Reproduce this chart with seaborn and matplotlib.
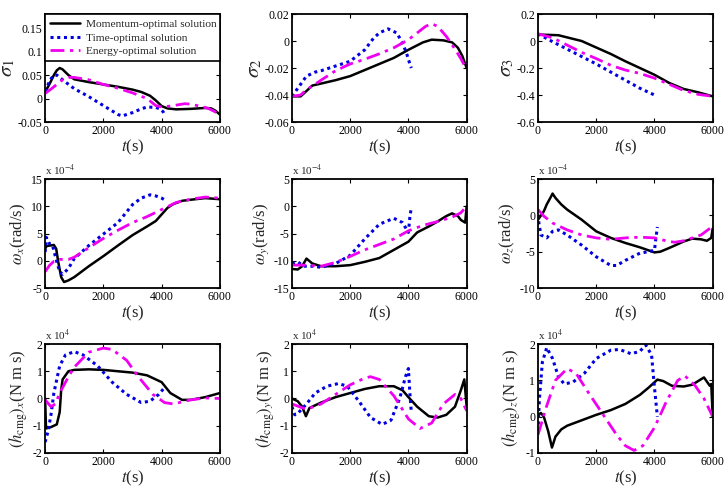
import numpy as np
import pandas as pd
import matplotlib
matplotlib.use("Agg")
import matplotlib.pyplot as plt
import seaborn as sns
from matplotlib.ticker import FuncFormatter, FixedLocator
from matplotlib.lines import Line2D

sns.set_style("ticks")
plt.rcParams["font.family"] = ["Liberation Serif", "DejaVu Serif"]
plt.rcParams["mathtext.fontset"] = "stix"
plt.rcParams["axes.unicode_minus"] = False

series_names = ["Momentum-optimal solution", "Time-optimal solution", "Energy-optimal solution"]

# ---- sigma_1 ----
s1_mom_t = [0, 100, 200, 300, 400, 500, 600, 800, 1000, 1500, 2000, 2500, 3000, 3300, 3600, 3800, 4000, 4200, 4500, 5000, 5500, 5700, 5850, 6000]
s1_mom = [0.015, 0.025, 0.037, 0.05, 0.06, 0.065, 0.062, 0.05, 0.041, 0.035, 0.03, 0.025, 0.019, 0.014, 0.006, -0.004, -0.016, -0.021, -0.023, -0.022, -0.02, -0.021, -0.026, -0.034]
s1_tim_t = [0, 100, 200, 300, 400, 500, 700, 1000, 1500, 2000, 2500, 2650, 3000, 3300, 3500, 3800, 3950, 4050, 4100]
s1_tim = [0.015, 0.03, 0.042, 0.05, 0.05, 0.045, 0.035, 0.021, 0.004, -0.015, -0.034, -0.037, -0.03, -0.022, -0.018, -0.019, -0.022, -0.028, -0.034]
s1_ene_t = [0, 200, 400, 600, 800, 1000, 1500, 2000, 2500, 3000, 3500, 3800, 4000, 4300, 4600, 4800, 5000, 5300, 5600, 5800, 6000]
s1_ene = [0.011, 0.02, 0.03, 0.04, 0.045, 0.045, 0.04, 0.03, 0.022, 0.012, 0.0, -0.015, -0.018, -0.016, -0.013, -0.011, -0.012, -0.016, -0.021, -0.027, -0.035]

# ---- sigma_2 ----
s2_mom_t = [0, 300, 500, 700, 1000, 1500, 2000, 2500, 3000, 3500, 4000, 4500, 4800, 5200, 5500, 5700, 5850, 6000]
s2_mom = [-0.041, -0.041, -0.037, -0.033, -0.0315, -0.029, -0.026, -0.0215, -0.017, -0.0125, -0.0065, -0.001, 0.001, 0.0005, -0.001, -0.005, -0.011, -0.02]
s2_tim_t = [0, 200, 500, 800, 1000, 1500, 2000, 2500, 2800, 3000, 3300, 3600, 3800, 3950, 4050, 4100]
s2_tim = [-0.041, -0.035, -0.026, -0.023, -0.022, -0.0185, -0.015, -0.0065, 0.002, 0.006, 0.009, 0.006, -0.0015, -0.01, -0.017, -0.02]
s2_ene_t = [0, 300, 500, 800, 1000, 1500, 2000, 2500, 3000, 3500, 4000, 4300, 4600, 4800, 5000, 5300, 5600, 5800, 6000]
s2_ene = [-0.041, -0.04, -0.036, -0.032, -0.029, -0.022, -0.017, -0.0135, -0.0095, -0.005, 0.001, 0.006, 0.011, 0.0127, 0.011, 0.0035, -0.006, -0.013, -0.021]

# ---- sigma_3 ----
s3_mom_t = [0, 700, 1500, 2000, 2500, 3000, 3500, 4000, 4500, 5000, 5500, 6000]
s3_mom = [0.048, 0.043, 0.0, -0.048, -0.096, -0.15, -0.2, -0.25, -0.31, -0.355, -0.38, -0.41]
s3_tim_t = [0, 500, 1000, 1500, 2000, 2500, 3000, 3500, 4000, 4050]
s3_tim = [0.053, -0.005, -0.06, -0.115, -0.17, -0.23, -0.29, -0.35, -0.40, -0.41]
s3_ene_t = [0, 500, 1000, 1500, 2000, 2500, 3000, 3500, 4000, 4500, 5000, 5500, 6000]
s3_ene = [0.053, 0.024, -0.03, -0.084, -0.13, -0.18, -0.215, -0.24, -0.275, -0.32, -0.366, -0.395, -0.41]

# ---- omega_x (x 1e-4) ----
wx_mom_t = [0, 50, 300, 380, 450, 550, 650, 800, 1000, 1500, 2000, 2500, 3000, 3500, 3800, 4000, 4200, 4400, 4700, 5000, 5500, 6000]
wx_mom = [2.2, 2.7, 2.9, 2.2, -0.2, -3.0, -3.9, -3.6, -3.0, -1.0, 0.85, 2.8, 4.7, 6.3, 7.3, 8.5, 9.7, 10.4, 11.0, 11.2, 11.5, 11.3]
wx_tim_t = [0, 40, 150, 250, 400, 500, 600, 800, 1000, 1500, 2000, 2500, 3000, 3300, 3600, 3800, 4000, 4100]
wx_tim = [1.6, 4.3, 3.1, 2.9, -0.2, -2.0, -2.5, -1.4, 0.4, 2.8, 4.9, 7.0, 10.3, 11.5, 12.1, 11.9, 11.5, 11.2]
wx_ene_t = [0, 150, 300, 500, 800, 1000, 1500, 2000, 2500, 3000, 3500, 4000, 4500, 5000, 5500, 6000]
wx_ene = [-2.0, -0.85, -0.1, 0.25, 0.25, 0.65, 2.4, 4.1, 5.6, 7.0, 8.1, 9.4, 10.7, 11.3, 11.7, 11.5]

# ---- omega_y (x 1e-4) ----
wy_mom_t = [0, 200, 350, 500, 700, 1000, 1500, 2000, 2500, 3000, 3500, 4000, 4300, 4700, 5000, 5300, 5500, 5700, 5800, 5950, 6000]
wy_mom = [-11.5, -11.6, -11.0, -9.6, -10.5, -11.0, -11.0, -10.8, -10.2, -9.5, -8.0, -6.5, -4.8, -3.7, -2.8, -1.8, -1.3, -1.8, -2.5, -3.0, 0.0]
wy_tim_t = [0, 200, 400, 700, 1000, 1500, 2000, 2500, 3000, 3500, 3800, 4000, 4050, 4100]
wy_tim = [-10.5, -10.2, -11.0, -11.0, -11.2, -10.5, -9.0, -6.0, -3.3, -2.2, -3.0, -4.8, -2.0, -0.2]
wy_ene_t = [0, 500, 1000, 1500, 2000, 2500, 3000, 3500, 4000, 4500, 5000, 5500, 5800, 6000]
wy_ene = [-10.8, -10.8, -11.0, -10.3, -9.2, -8.0, -7.0, -6.0, -4.5, -3.5, -2.8, -2.0, -1.2, 0.0]

# ---- omega_z (x 1e-4) ----
wz_mom_t = [0, 200, 300, 450, 500, 600, 800, 1000, 1500, 2000, 2500, 3000, 3500, 4000, 4200, 4500, 5000, 5300, 5600, 5800, 5950, 6000]
wz_mom = [-0.6, 0.55, 1.5, 2.6, 3.0, 2.4, 1.5, 0.8, -0.6, -2.2, -3.1, -3.8, -4.4, -5.1, -5.0, -4.5, -3.6, -3.2, -3.3, -3.5, -3.1, -1.8]
wz_tim_t = [0, 30, 100, 300, 500, 700, 1000, 1500, 2000, 2500, 2700, 3000, 3500, 3800, 4000, 4050, 4100]
wz_tim = [0.1, -1.0, -2.7, -3.1, -2.2, -2.0, -2.7, -4.1, -5.7, -6.9, -6.9, -6.2, -5.2, -5.0, -4.8, -3.1, -1.6]
wz_ene_t = [0, 200, 500, 1000, 1500, 2000, 2500, 3000, 3500, 4000, 4500, 4700, 5000, 5300, 5600, 6000]
wz_ene = [0.8, -0.1, -1.05, -2.0, -2.7, -3.1, -3.3, -3.1, -3.0, -3.1, -3.6, -3.7, -3.5, -3.1, -2.7, -1.5]

# ---- (h_cmg)_x (x 1e4) ----
hx_mom_t = [0, 30, 200, 400, 500, 550, 600, 800, 1000, 1500, 2000, 2500, 3000, 3500, 4000, 4300, 4700, 5000, 5500, 6000]
hx_mom = [0.0, -1.1, -1.05, -0.95, -0.5, 0.3, 0.7, 1.0, 1.05, 1.07, 1.05, 1.0, 0.95, 0.85, 0.6, 0.2, -0.05, -0.05, 0.05, 0.2]
hx_tim_t = [0, 100, 200, 300, 500, 700, 1000, 1300, 1800, 2300, 2800, 3300, 3600, 3900, 4100]
hx_tim = [-1.6, -1.2, -0.6, 0.2, 1.2, 1.6, 1.72, 1.6, 1.2, 0.6, 0.15, -0.15, -0.1, 0.15, 0.4]
hx_ene_t = [0, 200, 350, 500, 800, 1000, 1500, 2000, 2300, 2800, 3200, 3700, 4100, 4400, 5000, 5500, 6000]
hx_ene = [-0.05, -0.3, -0.2, 0.2, 0.8, 1.15, 1.7, 1.85, 1.8, 1.4, 0.8, 0.15, -0.15, -0.2, -0.05, 0.02, 0.0]

# ---- (h_cmg)_y (x 1e4) ----
hy_mom_t = [0, 200, 350, 480, 600, 800, 1000, 1500, 2000, 2500, 3000, 3500, 3800, 4000, 4300, 4700, 5000, 5300, 5600, 5800, 5920, 6000]
hy_mom = [0.0, -0.1, -0.3, -0.65, -0.35, -0.25, -0.15, 0.05, 0.2, 0.35, 0.45, 0.45, 0.3, 0.05, -0.3, -0.65, -0.7, -0.6, -0.3, 0.3, 0.7, -0.3]
hy_tim_t = [0, 100, 200, 500, 800, 1200, 1600, 1900, 2300, 2700, 3100, 3400, 3700, 3900, 4000, 4050, 4100]
hy_tim = [-0.3, -0.6, -0.55, -0.2, 0.2, 0.45, 0.55, 0.45, -0.1, -0.7, -0.95, -0.8, 0.0, 0.8, 1.1, 0.2, -0.5]
hy_ene_t = [0, 500, 1000, 1500, 2000, 2500, 2700, 3000, 3500, 4000, 4400, 4800, 5200, 5600, 5800, 6000]
hy_ene = [-0.2, -0.4, -0.2, 0.15, 0.5, 0.75, 0.8, 0.7, 0.1, -0.75, -1.1, -0.9, -0.2, 0.15, 0.0, -0.45]

# ---- (h_cmg)_z (x 1e4) ----
hz_mom_t = [0, 100, 200, 350, 480, 600, 800, 1000, 1500, 2000, 2500, 3000, 3500, 3800, 4100, 4300, 4600, 5000, 5300, 5700, 5900, 5950, 6000]
hz_mom = [0.05, 0.1, 0.0, -0.4, -0.85, -0.55, -0.35, -0.25, -0.1, 0.05, 0.18, 0.35, 0.6, 0.8, 1.02, 0.98, 0.85, 0.83, 0.88, 1.08, 0.85, 0.9, 0.0]
hz_tim_t = [0, 50, 150, 300, 500, 700, 900, 1200, 1600, 2000, 2500, 2800, 3200, 3500, 3700, 3900, 4000, 4100]
hz_tim = [-0.4, 0.5, 1.5, 1.9, 1.6, 1.1, 0.9, 0.95, 1.2, 1.6, 1.83, 1.85, 1.73, 1.8, 1.97, 1.7, 0.8, 0.0]
hz_ene_t = [0, 300, 600, 1000, 1300, 1700, 2200, 2700, 3000, 3300, 3600, 4000, 4400, 4800, 5050, 5400, 5700, 6000]
hz_ene = [-0.5, 0.3, 1.0, 1.32, 1.2, 0.7, 0.1, -0.5, -0.8, -0.93, -0.8, -0.3, 0.4, 1.0, 1.12, 0.85, 0.5, 0.0]

x_ticks = [0, 2000, 4000, 6000]
x_tick_labels = ["0", "2000", "4000", "6000"]

panels = [
    dict(data=[(s1_mom_t, s1_mom), (s1_tim_t, s1_tim), (s1_ene_t, s1_ene)], ylim=(-0.05, 0.18),
         yticks=[-0.05, 0, 0.05, 0.1, 0.15], ylabel=r"$\sigma_1$", ylfs=15, offset=None),
    dict(data=[(s2_mom_t, s2_mom), (s2_tim_t, s2_tim), (s2_ene_t, s2_ene)], ylim=(-0.06, 0.02),
         yticks=[-0.06, -0.04, -0.02, 0, 0.02], ylabel=r"$\sigma_2$", ylfs=15, offset=None),
    dict(data=[(s3_mom_t, s3_mom), (s3_tim_t, s3_tim), (s3_ene_t, s3_ene)], ylim=(-0.6, 0.2),
         yticks=[-0.6, -0.4, -0.2, 0, 0.2], ylabel=r"$\sigma_3$", ylfs=15, offset=None),
    dict(data=[(wx_mom_t, wx_mom), (wx_tim_t, wx_tim), (wx_ene_t, wx_ene)], ylim=(-5, 15),
         yticks=[-5, 0, 5, 10, 15], ylabel=r"$\omega_x$(rad/s)", ylfs=12, offset=r"x 10$^{-4}$"),
    dict(data=[(wy_mom_t, wy_mom), (wy_tim_t, wy_tim), (wy_ene_t, wy_ene)], ylim=(-15, 5),
         yticks=[-15, -10, -5, 0, 5], ylabel=r"$\omega_y$(rad/s)", ylfs=12, offset=r"x 10$^{-4}$"),
    dict(data=[(wz_mom_t, wz_mom), (wz_tim_t, wz_tim), (wz_ene_t, wz_ene)], ylim=(-10, 5),
         yticks=[-10, -5, 0, 5], ylabel=r"$\omega_z$(rad/s)", ylfs=12, offset=r"x 10$^{-4}$"),
    dict(data=[(hx_mom_t, hx_mom), (hx_tim_t, hx_tim), (hx_ene_t, hx_ene)], ylim=(-2, 2),
         yticks=[-2, -1, 0, 1, 2], ylabel=r"$(h_{\mathrm{cmg}})_x$(N m s)", ylfs=12, offset=r"x 10$^{4}$"),
    dict(data=[(hy_mom_t, hy_mom), (hy_tim_t, hy_tim), (hy_ene_t, hy_ene)], ylim=(-2, 2),
         yticks=[-2, -1, 0, 1, 2], ylabel=r"$(h_{\mathrm{cmg}})_y$(N m s)", ylfs=12, offset=r"x 10$^{4}$"),
    dict(data=[(hz_mom_t, hz_mom), (hz_tim_t, hz_tim), (hz_ene_t, hz_ene)], ylim=(-1, 2),
         yticks=[-1, 0, 1, 2], ylabel=r"$(h_{\mathrm{cmg}})_z$(N m s)", ylfs=12, offset=r"x 10$^{4}$"),
]

colors = ["black", "#0000E0", "#F000F0"]
styles = ["-", (0, (1, 1.2)), (0, (5, 2, 1.2, 2))]
widths = [1.8, 2.2, 2.0]

fig = plt.figure(figsize=(7.28, 4.92), dpi=100)
lefts = [0.062, 0.401, 0.739]
bottoms = [0.752, 0.4146, 0.0793]
heights = [0.2195, 0.2215, 0.2215]
width = 0.240

fmt = FuncFormatter(lambda v, p: "%g" % (round(v, 6) + 0.0))

axes = []
for i, p in enumerate(panels):
    r, c = divmod(i, 3)
    ax = fig.add_axes([lefts[c], bottoms[r], width, heights[r]])
    axes.append(ax)
    for k, (tt, vv) in enumerate(p["data"]):
        df = pd.DataFrame({"t": tt, "v": vv})
        sns.lineplot(data=df, x="t", y="v", ax=ax, color=colors[k], linestyle=styles[k],
                     linewidth=widths[k], sort=False, estimator=None, legend=False)
    ax.set_xlim(0, 6000)
    ax.set_ylim(*p["ylim"])
    ax.xaxis.set_major_locator(FixedLocator(x_ticks))
    ax.set_xticklabels(x_tick_labels)
    ax.yaxis.set_major_locator(FixedLocator(p["yticks"]))
    ax.yaxis.set_major_formatter(fmt)
    ax.tick_params(direction="in", length=3, width=0.8, labelsize=8.5, top=True, right=True,
                   colors="black", pad=2)
    for s in ax.spines.values():
        s.set_visible(True)
        s.set_linewidth(1.3)
        s.set_color("black")
    ax.set_xlabel(r"$t$(s)", fontsize=12, labelpad=1)
    ax.set_ylabel(p["ylabel"], fontsize=p["ylfs"], labelpad=(0 if p["ylfs"] == 15 else 2))
    if p["offset"]:
        ax.text(0.0, 1.01, p["offset"], transform=ax.transAxes, ha="left", va="bottom", fontsize=8)

handles = [Line2D([], [], color=colors[k], linestyle=styles[k], linewidth=widths[k]) for k in range(3)]
leg = axes[0].legend(handles, series_names, loc="upper left", bbox_to_anchor=(0, 0.0, 1, 1),
                     mode="expand", borderaxespad=0, fontsize=8.2, frameon=True, fancybox=False,
                     edgecolor="black", framealpha=1, handlelength=2.6, labelspacing=0.32,
                     borderpad=0.45, handletextpad=0.5)
leg.get_frame().set_linewidth(1.2)

fig.savefig("out.png", dpi=100)
